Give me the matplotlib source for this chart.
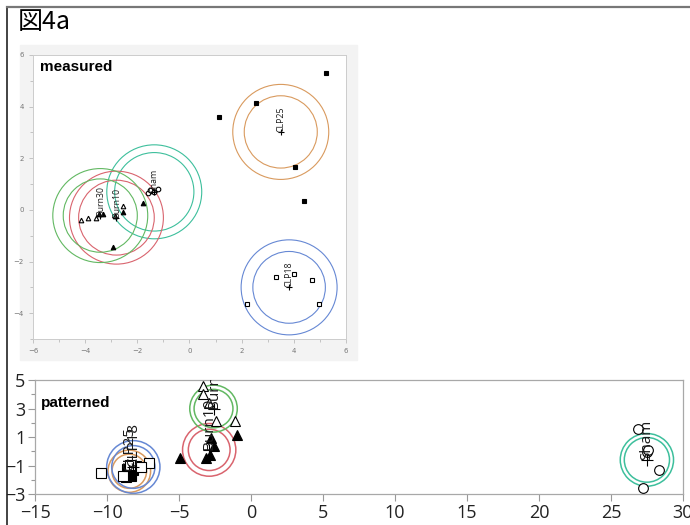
import matplotlib.pyplot as plt
from matplotlib.patches import Circle, Rectangle
from matplotlib.lines import Line2D
from matplotlib.ticker import MultipleLocator

# ---- groups ----
groups = ["Sham", "Burn10", "Burn30", "CLP25", "CLP18"]
colors = ["#3dbf9c", "#d9646e", "#62b862", "#d99a5e", "#6688d4"]
markers = ["o", "^", "^", "s", "s"]
filled = [False, True, False, True, False]

# ---- measured (top panel) ----
m_sham_x = [-1.6, -1.45, -1.35, -1.2, -1.5]
m_sham_y = [0.65, 0.72, 0.7, 0.8, 0.78]
m_burn10_x = [-3.45, -3.3, -2.95, -2.55, -1.8]
m_burn10_y = [-0.15, -0.15, -1.45, -0.1, 0.28]
m_burn30_x = [-4.15, -3.9, -3.6, -2.55, -2.85]
m_burn30_y = [-0.4, -0.3, -0.32, 0.15, -0.25]
m_clp25_x = [1.15, 2.55, 4.05, 4.4, 5.25]
m_clp25_y = [3.6, 4.15, 1.65, 0.35, 5.3]
m_clp18_x = [2.2, 3.3, 4.0, 4.7, 4.95]
m_clp18_y = [-3.65, -2.6, -2.5, -2.7, -3.65]

m_center_x = [-1.35, -2.8, -3.42, 3.5, 3.82]
m_center_y = [0.7, -0.3, -0.22, 3.02, -3.0]
m_r_inner = [1.52, 1.45, 1.42, 1.4, 1.39]
m_r_outer = [1.82, 1.8, 1.82, 1.84, 1.84]

# ---- patterned (bottom panel) ----
p_sham_x = [26.9, 27.5, 28.35, 27.25, 27.6]
p_sham_y = [1.6, -0.05, -1.3, -2.6, 0.1]
p_burn10_x = [-4.9, -2.75, -2.6, -3.1, -2.85, -0.95]
p_burn10_y = [-0.5, 0.9, 0.35, -0.5, -0.25, 1.15]
p_burn30_x = [-3.3, -3.3, -2.4, -1.1, -2.9]
p_burn30_y = [4.6, 4.0, 2.1, 2.1, 3.4]
p_clp25_x = [-8.7, -8.5, -8.2, -7.95, -8.6, -8.35]
p_clp25_y = [-1.8, -1.55, -1.3, -1.05, -1.25, -1.7]
p_clp18_x = [-10.4, -7.05, -7.65, -8.4, -8.9]
p_clp18_y = [-1.5, -0.85, -1.1, -0.95, -1.75]

p_center_x = [27.5, -2.9, -2.6, -8.45, -8.17]
p_center_y = [-0.6, 0.1, 3.0, -1.4, -1.1]
p_r_inner = [1.57, 1.45, 1.35, 1.2, 1.5]
p_r_outer = [1.85, 1.85, 1.65, 1.48, 1.85]

m_pts = [(m_sham_x, m_sham_y), (m_burn10_x, m_burn10_y), (m_burn30_x, m_burn30_y),
         (m_clp25_x, m_clp25_y), (m_clp18_x, m_clp18_y)]
p_pts = [(p_sham_x, p_sham_y), (p_burn10_x, p_burn10_y), (p_burn30_x, p_burn30_y),
         (p_clp25_x, p_clp25_y), (p_clp18_x, p_clp18_y)]


def draw_panel(ax, pts, cx, cy, r_in, r_out, ms, lsize, cw):
    for i, g in enumerate(groups):
        for r in (r_in[i], r_out[i]):
            ax.add_patch(Circle((cx[i], cy[i]), r, fill=False, ec=colors[i], lw=cw, zorder=2))
        x, y = pts[i]
        ax.plot(x, y, ls="none", marker=markers[i], ms=ms, mec="black", mew=0.8,
                mfc="black" if filled[i] else "white", zorder=3)
        ax.plot(cx[i], cy[i], ls="none", marker="+", ms=ms * 1.3, color="black", mew=0.8, zorder=4)
        ax.text(cx[i], cy[i], g, rotation=90, rotation_mode="anchor", ha="left", va="center",
                fontsize=lsize, family="Open Sans", color="#1a1a1a", zorder=5, clip_on=True)


fig = plt.figure(figsize=(6.9, 5.25), dpi=100)

# outer frame
fig.add_artist(Line2D([0.0101, 0.0101], [0, 0.9867], color="#222222", lw=1.2))
fig.add_artist(Line2D([0.0101, 1], [0.9867, 0.9867], color="#777777", lw=1.6))
fig.text(0.025, 0.958, "図4a", fontsize=18, va="center", ha="left",
         family=["Noto Sans CJK JP", "DejaVu Sans"])

# grey backdrop of the measured panel
fig.add_artist(Rectangle((0.029, 0.314), 0.488, 0.6, transform=fig.transFigure,
                         color="#f3f3f3", zorder=0))

# ---- measured ----
ax1 = fig.add_axes([0.0478, 0.3543, 0.4536, 0.541])
ax1.set_xlim(-6, 6)
ax1.set_ylim(-5, 6)
draw_panel(ax1, m_pts, m_center_x, m_center_y, m_r_inner, m_r_outer, 3.3, 6.3, 0.8)
ax1.xaxis.set_major_locator(MultipleLocator(2))
ax1.xaxis.set_minor_locator(MultipleLocator(1))
ax1.yaxis.set_major_locator(MultipleLocator(2))
ax1.yaxis.set_minor_locator(MultipleLocator(1))
ax1.tick_params(which="both", direction="out", color="#bbbbbb", labelsize=5,
                labelcolor="#777777", width=0.6)
ax1.tick_params(which="major", length=3)
ax1.tick_params(which="minor", length=2)
for s in ax1.spines.values():
    s.set_color("#cccccc")
    s.set_linewidth(0.7)
ax1.text(0.022, 0.958, "measured", transform=ax1.transAxes, fontsize=11,
         fontweight="bold", family="Liberation Sans", va="center", ha="left")

# ---- patterned ----
ax2 = fig.add_axes([0.0507, 0.059, 0.939, 0.217])
ax2.set_xlim(-15, 30)
ax2.set_ylim(-3, 5)
draw_panel(ax2, p_pts, p_center_x, p_center_y, p_r_inner, p_r_outer, 7, 11, 1.1)
ax2.xaxis.set_major_locator(MultipleLocator(5))
ax2.set_yticks([-3, -1, 1, 3, 5])
ax2.set_yticks([-2, 0, 2, 4], minor=True)
ax2.tick_params(which="both", direction="out", color="#999999", labelsize=13,
                labelcolor="#222222", width=0.8)
ax2.tick_params(which="major", length=5, pad=2)
ax2.tick_params(which="minor", length=3)
for lab in ax2.get_xticklabels() + ax2.get_yticklabels():
    lab.set_family("Open Sans")
for s in ax2.spines.values():
    s.set_color("#a8a8a8")
    s.set_linewidth(0.9)
ax2.text(0.009, 0.8, "patterned", transform=ax2.transAxes, fontsize=11,
         fontweight="bold", family="Liberation Sans", va="center", ha="left")

fig.savefig("out.png", dpi=100)
